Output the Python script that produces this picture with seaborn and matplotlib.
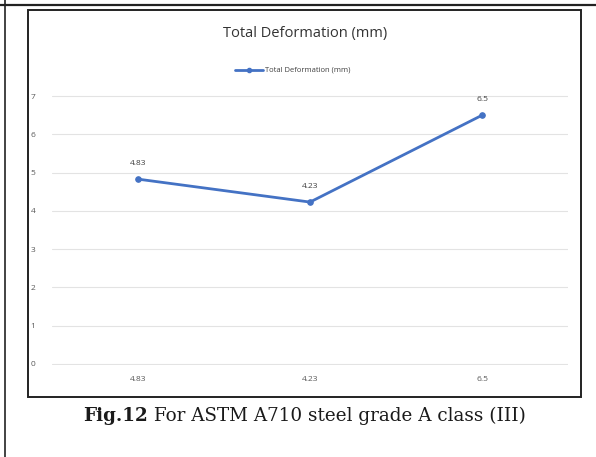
import matplotlib
matplotlib.use('Agg')
import matplotlib.pyplot as plt
import seaborn as sns
import pandas as pd
from matplotlib.patches import Rectangle
from matplotlib.lines import Line2D

# chart data
categories = ["4.83", "4.23", "6.5"]
deformation = [4.83, 4.23, 6.5]
y_ticks = [0, 1, 2, 3, 4, 5, 6, 7]
series_name = "Total Deformation (mm)"
caption_bold = "Fig.12"
caption_rest = " For ASTM A710 steel grade A class (III)"

sns.set_theme(style="white")
plt.rcParams['font.family'] = ['Open Sans', 'DejaVu Sans']

W, H = 596, 457
fig = plt.figure(figsize=(W / 100, H / 100), dpi=100)


def px(x, y):
    return x / W, 1 - y / H


# page frame lines and chart box
fig.add_artist(Line2D([0, 1], [1 - 5 / H] * 2, color='#222222', lw=1.6, transform=fig.transFigure))
fig.add_artist(Line2D([5 / W] * 2, [0, 1], color='#222222', lw=1.2, transform=fig.transFigure))
x0, y0 = px(28, 397)
fig.add_artist(Rectangle((x0, y0), (581 - 28) / W, (397 - 10) / H, transform=fig.transFigure,
                         fill=False, edgecolor='#222222', lw=1.4))

left, bottom = px(52, 365)
ax = fig.add_axes([left, bottom, (568 - 52) / W, (365 - 95) / H])

df = pd.DataFrame({"x": categories, "y": deformation})
sns.lineplot(data=df, x="x", y="y", ax=ax, color='#4472C4', lw=2,
             marker='o', markersize=4, markeredgecolor='#4472C4', sort=False)

ax.set_ylim(-0.03, 7.03)
ax.set_xlim(-0.5, len(categories) - 0.5)
ax.set_yticks(y_ticks)
ax.yaxis.grid(True, color='#e3e3e3', lw=0.8)
ax.set_axisbelow(True)
for s in ax.spines.values():
    s.set_visible(False)
ax.tick_params(axis='both', length=0, labelsize=6, colors='#595959')
ax.tick_params(axis='y', pad=12)
ax.tick_params(axis='x', pad=8)
ax.set_xlabel("")
ax.set_ylabel("")

for i, v in enumerate(deformation):
    ax.annotate(f"{v:g}", (i, v), xytext=(0, 9), textcoords='offset points',
                ha='center', va='bottom', fontsize=6, color='#404040')

# title and legend
tx, ty = px(305, 33)
fig.text(tx, ty, series_name, ha='center', va='center', fontsize=10.5, color='#333333')
lx, ly = px(263, 70)
fig.add_artist(Line2D([lx - 28 / W, lx], [ly, ly], color='#4472C4', lw=2,
                      transform=fig.transFigure))
fig.add_artist(Line2D([lx - 14 / W], [ly], color='#4472C4', marker='o', markersize=3,
                      transform=fig.transFigure))
fig.text(lx + 2 / W, ly, series_name, ha='left', va='center', fontsize=5.5, color='#404040')

# caption
serif = 'DejaVu Serif'
csize = 13.2
cx, cy = px(302, 416)
full = fig.text(0, 0, caption_bold + caption_rest, fontsize=csize, family=serif)
fig.canvas.draw()
fb = full.get_window_extent()
full.remove()
start = (W * cx - fb.width / 2) / W
t1 = fig.text(start, cy, caption_bold, ha='left', va='center', fontsize=csize,
              family=serif, weight='bold', color='#1a1a1a')
fig.canvas.draw()
bb = t1.get_window_extent()
fig.text(bb.x1 / W, cy, caption_rest, ha='left', va='center', fontsize=csize,
         family=serif, color='#1a1a1a')

fig.savefig('out.png', dpi=100)
